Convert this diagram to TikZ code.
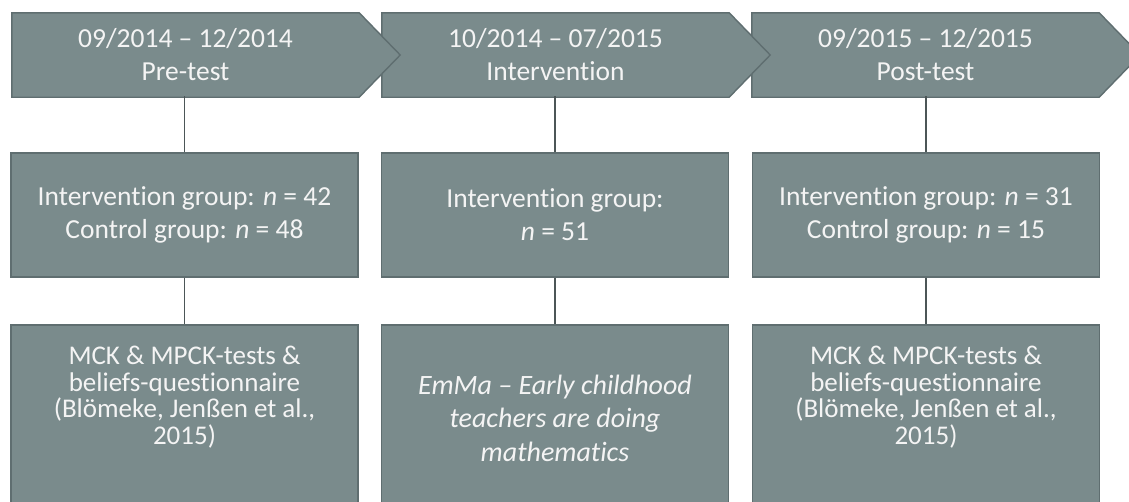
\documentclass[tikz,border=0pt]{standalone}
\usepackage{fontspec}
\setmainfont{Carlito}[Ligatures={NoCommon,NoContextual,NoRequired},Contextuals=NoAlternate]
\usetikzlibrary{backgrounds}
\definecolor{boxfill}{HTML}{7A8B8C}
\definecolor{boxedge}{HTML}{5F6E70}
\definecolor{connline}{HTML}{4C5657}
\definecolor{txt}{HTML}{F4F4F4}
\tikzset{
  chevtext/.style={draw=none, minimum width=347pt, minimum height=82pt, inner sep=0pt,
    align=center, text=txt, font=\fontsize{27.5}{33}\selectfont},
  chevshape/.style={fill=boxfill, draw=boxedge, line width=1.4pt, line join=miter},
  midbox/.style={fill=boxfill, draw=boxedge, line width=1.4pt, minimum width=347pt,
    minimum height=124pt, inner sep=0pt, align=center, text=txt,
    font=\fontsize{27.5}{33}\selectfont},
  lowbox/.style={fill=boxfill, draw=boxedge, line width=1.4pt, minimum width=347pt,
    minimum height=190pt, inner sep=0pt},
  lowtext/.style={align=center, text=txt, inner sep=0pt, font=\fontsize{27}{26.7}\selectfont},
  emtext/.style={align=center, text=txt, inner sep=0pt, font=\fontsize{28}{33.5}\selectfont\itshape},
  conn/.style={draw=connline, line width=1.5pt}
}
\begin{document}
\begin{tikzpicture}[x=1pt,y=-1pt]
\useasboundingbox (0,0) rectangle (1129,501);
\clip (0,0) rectangle (1129,501);
% chevrons (text nodes)
\node[chevtext] (c1) at (185.5,55) {09/2014 -- 12/2014\\Pre-test};
\node[chevtext] (c2) at (555.5,55) {10/2014 -- 07/2015\\Intervention};
\node[chevtext] (c3) at (925.5,55) {09/2015 -- 12/2015\\Post-test};
\begin{scope}[on background layer]
  \foreach \c in {c3,c2,c1}{
    \path[chevshape] ([yshift=1pt]\c.north west) -- ([yshift=1pt]\c.north east) -- ([xshift=41pt]\c.east)
      -- ([yshift=-1pt]\c.south east) -- ([yshift=-1pt]\c.south west) -- cycle;
  }
\end{scope}
% middle boxes
\node[midbox] (m1) at (184.5,215) {Intervention group: \textit{n} = 42\\Control group: \textit{n} = 48};
\node[midbox] (m2) at (555,215) {Intervention group:\\\textit{n} = 51};
\node[midbox] (m3) at (926,215) {Intervention group: \textit{n} = 31\\Control group: \textit{n} = 15};
% lower boxes
\node[lowbox] (b1) at (184.5,420) {};
\node[lowbox] (b2) at (555,420) {};
\node[lowbox] (b3) at (926,420) {};
\node[lowtext] (t1) at (184.5,397) {MCK \& MPCK-tests \&\\beliefs-questionnaire\\(Blömeke, Jenßen et al.,\\2015)};
\node[emtext] (t2) at (555,418) {EmMa -- Early childhood\\teachers are doing\\mathematics};
\node[lowtext] (t3) at (926,397) {MCK \& MPCK-tests \&\\beliefs-questionnaire\\(Blömeke, Jenßen et al.,\\2015)};
% connectors
\foreach \i in {1,2,3}{
  \draw[conn] (c\i.south -| m\i.north) -- (m\i.north);
  \draw[conn] (m\i.south) -- (b\i.north);
}
\end{tikzpicture}
\end{document}
